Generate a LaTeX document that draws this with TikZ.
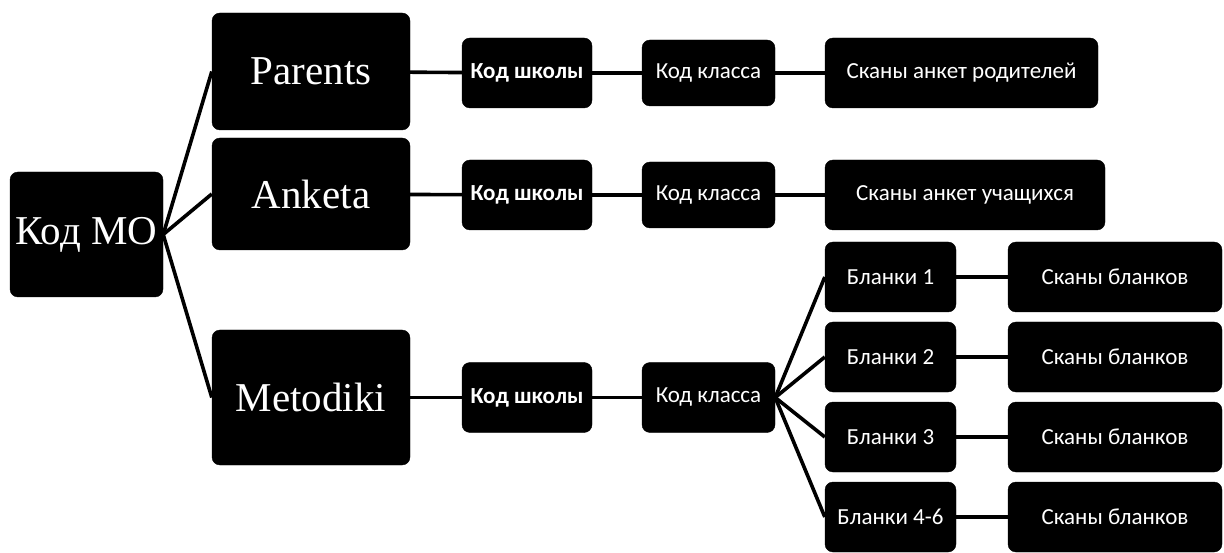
\documentclass[tikz,border=0pt]{standalone}
\usepackage{fontspec}
\newfontfamily\bigserif{Liberation Serif}
\newfontfamily\calfont{Carlito}
\begin{document}
\begin{tikzpicture}[x=1pt,y=-1pt,
  box/.style={draw=black,fill=black,text=white,rounded corners=8pt,inner sep=0pt,anchor=center},
  bigbox/.style={box,font=\bigserif\fontsize{41}{44}\selectfont},
  smallbox/.style={box,minimum height=70pt,font=\calfont\fontsize{23}{26}\selectfont},
  boldbox/.style={smallbox,font=\calfont\bfseries\fontsize{23}{26}\selectfont},
  link/.style={line width=3.6pt,black}]
\useasboundingbox (0,0) rectangle (1224,553);
% main column
\node[bigbox,minimum width=153pt,minimum height=125pt] (mo) at (86.5,234.5) {Код МО};
\node[bigbox,minimum width=198pt,minimum height=117pt] (par) at (311,71.5) {Parents};
\node[bigbox,minimum width=198pt,minimum height=112pt] (ank) at (311,194) {Anketa};
\node[bigbox,minimum width=198pt,minimum height=135pt] (met) at (311,397.5) {Metodiki};
% Parents row
\node[boldbox,minimum width=130pt] (sh1) at (527,73) {Код школы};
\node[smallbox,minimum width=133pt,minimum height=66pt] (kl1) at (708.5,73) {Код класса};
\node[smallbox,minimum width=273pt] (sc1) at (961.5,73) {Сканы анкет родителей};
% Anketa row
\node[boldbox,minimum width=130pt] (sh2) at (527,195) {Код школы};
\node[smallbox,minimum width=133pt,minimum height=66pt] (kl2) at (708.5,195) {Код класса};
\node[smallbox,minimum width=280pt] (sc2) at (965,195) {Сканы анкет учащихся};
% Metodiki row
\node[boldbox,minimum width=130pt] (sh3) at (527,397.5) {Код школы};
\node[smallbox,minimum width=133pt] (kl3) at (708.5,397.5) {Код класса};
% Blanks
\node[smallbox,minimum width=131pt] (b1) at (890.5,277) {Бланки 1};
\node[smallbox,minimum width=131pt] (b2) at (890.5,357) {Бланки 2};
\node[smallbox,minimum width=131pt] (b3) at (890.5,437) {Бланки 3};
\node[smallbox,minimum width=131pt] (b4) at (890.5,517) {Бланки 4-6};
\node[smallbox,minimum width=214pt] (s1) at (1115,277) {Сканы бланков};
\node[smallbox,minimum width=214pt] (s2) at (1115,357) {Сканы бланков};
\node[smallbox,minimum width=214pt] (s3) at (1115,437) {Сканы бланков};
\node[smallbox,minimum width=214pt] (s4) at (1115,517) {Сканы бланков};
% connectors
\draw[link] (mo.east) -- (par.west);
\draw[link] (mo.east) -- (ank.west);
\draw[link] (mo.east) -- (met.west);
\draw[link] (par) -- (sh1);
\draw[link] (sh1) -- (kl1);
\draw[link] (kl1) -- (sc1);
\draw[link] (ank) -- (sh2);
\draw[link] (sh2) -- (kl2);
\draw[link] (kl2) -- (sc2);
\draw[link] (met) -- (sh3);
\draw[link] (sh3) -- (kl3);
\foreach \i in {1,2,3,4}{
  \draw[link] (kl3.east) -- (b\i.west);
  \draw[link] (b\i) -- (s\i);
}
\end{tikzpicture}
\end{document}
